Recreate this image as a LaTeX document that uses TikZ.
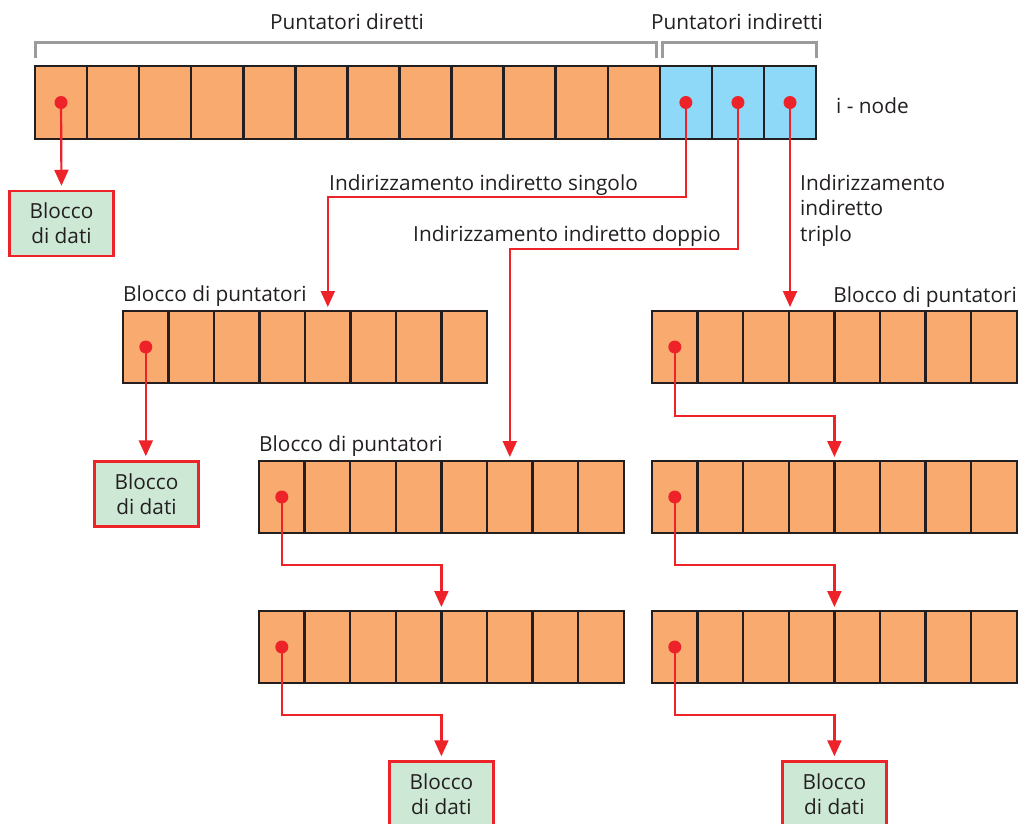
\documentclass[tikz,border=0pt]{standalone}
\usepackage{fontspec}
\setmainfont{Open Sans}
\usetikzlibrary{arrows.meta,calc}
\definecolor{orcell}{HTML}{F8AA6F}
\definecolor{blcell}{HTML}{8ED8F8}
\definecolor{grdata}{HTML}{CDE9D6}
\definecolor{redl}{HTML}{EE2229}
\definecolor{inkc}{HTML}{231F20}
\definecolor{brk}{HTML}{9A9B9D}
\begin{document}
\begin{tikzpicture}[x=1pt,y=-1pt,
  font=\fontsize{20.8}{25.5}\selectfont, text=inkc,
  cellbase/.style={draw=inkc, line width=2.5pt, inner sep=0pt, outer sep=0pt, anchor=north west},
  icell/.style={cellbase, minimum width=52.07pt, minimum height=73pt},
  pcell/.style={cellbase, fill=orcell, minimum width=45.6pt, minimum height=72pt},
  datab/.style={draw=redl, line width=2.5pt, fill=grdata, minimum width=104pt, minimum height=65pt, align=center, inner sep=0pt, font=\fontsize{20.8}{25}\selectfont},
  conn/.style={draw=redl, line width=2.2pt, -{Triangle[length=16pt,width=14pt]}, shorten >=4pt},
  dotn/.style={circle, fill=redl, inner sep=0pt, minimum size=13pt},
  brack/.style={draw=brk, line width=3pt},
  lbl/.style={inner sep=0pt, anchor=base west}
]
\useasboundingbox (0,0) rectangle (1019,823);

% i-node
\foreach \k in {1,...,12} {\node[icell, fill=orcell] (i\k) at ({35+(\k-1)*52.07},66) {};}
\foreach \k in {13,14,15} {\node[icell, fill=blcell] (i\k) at ({35+(\k-1)*52.07},66) {};}

% brackets
\coordinate (b1a) at (35,58);
\coordinate (b1b) at (656,58);
\coordinate (b2a) at (662,58);
\coordinate (b2b) at (816,58);
\draw[brack] (b1a) -- ++(0,-16) -| (b1b);
\draw[brack] (b2a) -- ++(0,-16) -| (b2b);
\node[inner sep=0pt, anchor=base] (lpd) at (347,29) {Puntatori diretti};
\node[inner sep=0pt, anchor=base] (lpi) at (737,29) {Puntatori indiretti};
\node[lbl] (linode) at (836,113) {i - node};

% pointer blocks
\foreach \k in {1,...,8} {\node[pcell] (A\k) at ({123+(\k-1)*45.5},311) {};}
\foreach \k in {1,...,8} {\node[pcell] (B\k) at ({259+(\k-1)*45.6},461) {};}
\foreach \k in {1,...,8} {\node[pcell] (C\k) at ({259+(\k-1)*45.6},611) {};}
\foreach \k in {1,...,8} {\node[pcell] (R\k) at ({652+(\k-1)*45.6},311) {};}
\foreach \k in {1,...,8} {\node[pcell] (S\k) at ({652+(\k-1)*45.6},461) {};}
\foreach \k in {1,...,8} {\node[pcell] (T\k) at ({652+(\k-1)*45.6},611) {};}

\node[lbl] (la) at (123,301) {Blocco di puntatori};
\node[lbl] (lb) at (259,451) {Blocco di puntatori};
\node[inner sep=0pt, anchor=base east] (lr) at (1017,302) {Blocco di puntatori};

% data blocks
\node[datab] (d1) at (61.5,223.5) {Blocco\\di dati};
\node[datab] (d2) at (146.5,494) {Blocco\\di dati};
\node[datab] (d3) at (441.4,794) {Blocco\\di dati};
\node[datab] (d4) at (834.4,794) {Blocco\\di dati};

% labels of indirections
\node[lbl] (ls) at (329,190) {Indirizzamento indiretto singolo};
\node[lbl] (ld) at (413,241) {Indirizzamento indiretto doppio};
\node[inner sep=0pt, anchor=north west, align=left, font=\fontsize{20.8}{25.5}\selectfont] (lt) at (800,174) {Indirizzamento\\indiretto\\triplo};

% connectors
\coordinate (cs) at (A5.north |- 0,197);
\coordinate (cd) at (B6.north |- 0,249);
\draw[conn] (i1.center) -- (d1.north);
\draw[conn] (i13.center) |- (cs) -- (A5.north);
\draw[conn] (i14.center) |- (cd) -- (B6.north);
\draw[conn] (i15.center) -- (i15.center |- R1.north);
\draw[conn] (A1.center) -- (A1.center |- d2.north);

\coordinate (k1) at (B1.center |- 0,565);
\coordinate (k2) at (C1.center |- 0,715);
\coordinate (k3) at (R1.center |- 0,416);
\coordinate (k4) at (S1.center |- 0,565);
\coordinate (k5) at (T1.center |- 0,715);
\draw[conn] (B1.center) -- (k1) -| (C5.north west);
\draw[conn] (C1.center) -- (k2) -| (d3.north);
\draw[conn] (R1.center) -- (k3) -| (S5.north west);
\draw[conn] (S1.center) -- (k4) -| (T5.north west);
\draw[conn] (T1.center) -- (k5) -| (d4.north);

% dots
\foreach \n in {i1,i13,i14,i15,A1,B1,C1,R1,S1,T1} {\node[dotn] (dot-\n) at (\n.center) {};}
\end{tikzpicture}
\end{document}
